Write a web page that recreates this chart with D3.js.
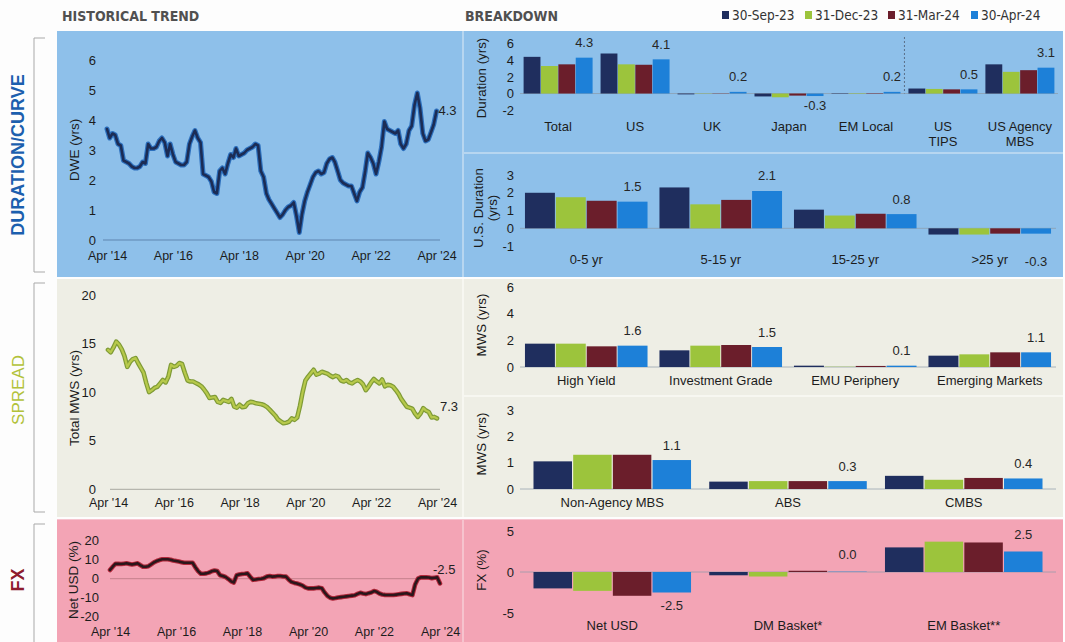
<!DOCTYPE html>
<html>
<head>
<meta charset="utf-8">
<script src="https://cdn.jsdelivr.net/npm/d3@7"></script>
<style>
  html, body { margin: 0; padding: 0; background: #fdfdfd; }
  svg { display: block; font-family: "Liberation Sans", Arial, Helvetica, sans-serif; }
  .narrow { font-family: "Liberation Sans Narrow", "DejaVu Sans Condensed", "Liberation Sans", Arial, sans-serif; }
</style>
</head>
<body>
<svg id="chart" width="1065" height="642"></svg>
<script>
// ---------- data ----------
const seriesNames = ["30-Sep-23", "31-Dec-23", "31-Mar-24", "30-Apr-24"];
const seriesColors = ["#1f2e5e", "#9cc43c", "#6b1e2b", "#1d80d8"];

// monthly history, Apr 2014 .. Apr 2024
const trendStart = new Date(2014, 3, 1);
const trendTickOffsets = [0, 24, 48, 72, 96, 120];
const trendTickLabels = ["Apr '14", "Apr '16", "Apr '18", "Apr '20", "Apr '22", "Apr '24"];

const dweValues = [
  3.7, 3.4, 3.55, 3.5, 3.2, 3.15, 2.65, 2.6, 2.55, 2.45,
  2.4, 2.4, 2.45, 2.6, 2.55, 3.2, 3.05, 3.05, 3.1, 3.3,
  3.4, 3.25, 2.8, 3.2, 2.85, 2.6, 2.55, 2.5, 2.5, 2.6,
  3.2, 3.45, 3.65, 3.4, 3.25, 2.2, 2.15, 2.1, 1.95, 1.6,
  1.55, 2.3, 2.4, 2.2, 2.55, 2.85, 2.75, 3.05, 2.8, 2.85,
  2.9, 3.0, 3.05, 3.1, 3.2, 3.15, 2.3, 2.1, 1.55, 1.35,
  1.2, 1.05, 0.9, 0.75, 0.85, 1.0, 1.1, 1.15, 1.25, 0.8,
  0.25, 0.85, 1.3, 1.6, 1.85, 2.1, 2.25, 2.3, 2.2, 2.25,
  2.55, 2.7, 2.75, 2.6, 2.3, 2.0, 1.9, 1.85, 1.8, 1.8,
  1.55, 1.3, 1.6, 1.75, 2.3, 2.9, 2.75, 2.55, 2.2, 2.6,
  3.1, 3.95, 3.7, 3.65, 3.6, 3.55, 3.65, 3.2, 3.05, 3.2,
  3.65, 3.8, 4.5, 4.9, 4.4, 3.55, 3.3, 3.35, 3.6, 3.85,
  4.3
];

const mwsValues = [
  14.35, 14.1, 14.6, 15.2, 14.9, 14.4, 13.7, 12.6, 13.1, 13.4,
  13.5, 13.0, 12.5, 12.0, 10.9, 10.0, 10.2, 10.45, 10.55, 10.9,
  11.25, 11.0, 11.6, 12.8, 12.6, 12.7, 13.0, 12.9, 12.0, 11.2,
  11.1, 11.1, 10.95, 10.8, 10.6, 10.3, 9.9, 9.4, 9.45, 9.5,
  9.0, 8.9, 9.2, 9.1, 9.0, 9.3, 8.5, 8.4, 8.7, 8.45,
  8.5, 8.85, 9.0, 8.95, 8.85, 8.8, 8.75, 8.65, 8.45, 8.2,
  7.9, 7.6, 7.2, 7.0, 6.8, 6.85, 6.95, 7.3, 7.15, 7.4,
  8.6, 10.0, 11.2, 11.6, 11.95, 12.3, 11.8, 11.9, 12.1, 12.0,
  11.9, 11.7, 11.55, 11.7, 11.6, 11.2, 11.1, 11.25, 11.0, 10.9,
  11.1, 11.25, 11.1, 10.8, 10.2, 10.55, 11.0, 11.35, 11.1, 10.9,
  11.3, 10.6, 10.75, 10.7, 10.55, 10.2, 9.8, 9.3, 8.9, 8.5,
  8.4, 8.3, 7.8, 7.45, 7.8, 8.35, 8.1, 7.95, 7.4, 7.45,
  7.3
];

const netUsdValues = [
  4.6, 6.3, 7.9, 7.8, 7.7, 7.9, 8.1, 7.8, 7.5, 7.8,
  8.1, 7.2, 6.3, 6.3, 6.6, 7.6, 8.6, 9.3, 9.8, 10.2,
  10.2, 10.2, 10.0, 9.6, 9.3, 9.0, 8.7, 8.4, 8.4, 8.4,
  8.4, 6.0, 4.0, 2.6, 2.6, 2.8, 3.2, 3.9, 4.3, 4.0,
  1.8, 1.4, 0.9, -0.2, -1.4, -2.0, 1.8, 2.2, 2.5, 2.6,
  2.8, 1.0, -0.6, -0.4, -0.2, 0.0, 0.3, 1.1, 1.4, 1.1,
  1.2, 1.4, 1.4, 1.2, 1.1, -0.5, -1.7, -2.2, -2.5, -3.0,
  -3.6, -4.6, -5.1, -5.1, -5.1, -4.9, -4.7, -5.0, -7.2, -9.0,
  -10.0, -10.4, -10.2, -9.9, -9.7, -9.5, -9.3, -9.1, -8.9, -8.7,
  -8.0, -7.4, -7.8, -8.1, -7.6, -7.3, -6.5, -6.9, -7.8, -8.3,
  -8.5, -8.6, -8.6, -8.6, -8.4, -8.2, -8.0, -7.8, -7.7, -8.2,
  -8.6, -3.0, 0.0, 0.7, 0.7, 0.7, 0.6, 0.3, 0.5, 0.7,
  -2.5
];

// breakdowns: one row per category, one value per as-of date
const durationCategories = ["Total", "US", "UK", "Japan", "EM Local", "US\nTIPS", "US Agency\nMBS"];
const durationValues = [
  [4.4, 3.3, 3.5, 4.3],
  [4.8, 3.5, 3.45, 4.1],
  [-0.1, 0.03, 0.03, 0.2],
  [-0.35, -0.45, -0.25, -0.3],
  [0.05, 0.05, 0.05, 0.2],
  [0.6, 0.55, 0.5, 0.5],
  [3.5, 2.6, 2.8, 3.1]
];

const usDurationCategories = ["0-5 yr", "5-15 yr", "15-25 yr", ">25 yr"];
const usDurationValues = [
  [2.0, 1.75, 1.55, 1.5],
  [2.3, 1.35, 1.6, 2.1],
  [1.05, 0.72, 0.82, 0.8],
  [-0.35, -0.35, -0.3, -0.3]
];

const creditCategories = ["High Yield", "Investment Grade", "EMU Periphery", "Emerging Markets"];
const creditValues = [
  [1.75, 1.75, 1.55, 1.6],
  [1.25, 1.6, 1.65, 1.5],
  [0.1, 0.02, 0.08, 0.1],
  [0.85, 0.95, 1.1, 1.1]
];

const securitizedCategories = ["Non-Agency MBS", "ABS", "CMBS"];
const securitizedValues = [
  [1.05, 1.3, 1.3, 1.1],
  [0.28, 0.3, 0.3, 0.3],
  [0.5, 0.35, 0.42, 0.4]
];

const fxCategories = ["Net USD", "DM Basket*", "EM Basket**"];
const fxValues = [
  [-2.0, -2.3, -2.9, -2.5],
  [-0.4, -0.55, 0.15, 0.04],
  [3.0, 3.7, 3.6, 2.5]
];

// ---------- drawing ----------
const svg = d3.select("#chart");
const months = dweValues.map((_, i) => d3.timeMonth.offset(trendStart, i));

// section backgrounds
const bandBacks = [
  { x: 57, y: 31, w: 1006, h: 246, fill: "#b7d6f0" },
  { x: 57, y: 279, w: 1006, h: 238, fill: "#f7f7f1" },
  { x: 57, y: 519, w: 1006, h: 123, fill: "#f6c3ce" }
];
const panelBacks = [
  { x: 57, y: 31, w: 405, h: 246, fill: "#8ec0ea" },
  { x: 464, y: 31, w: 599, h: 121, fill: "#8ec0ea" },
  { x: 464, y: 154, w: 599, h: 123, fill: "#8ec0ea" },
  { x: 57, y: 279, w: 405, h: 238, fill: "#eeeee5" },
  { x: 464, y: 279, w: 599, h: 116, fill: "#eeeee5" },
  { x: 464, y: 397, w: 599, h: 120, fill: "#eeeee5" },
  { x: 57, y: 520, w: 405, h: 122, fill: "#f3a4b5" },
  { x: 464, y: 520, w: 599, h: 122, fill: "#f3a4b5" }
];
svg.append("g").selectAll("rect").data(bandBacks.concat(panelBacks)).join("rect")
  .attr("x", d => d.x).attr("y", d => d.y).attr("width", d => d.w).attr("height", d => d.h)
  .attr("fill", d => d.fill);

// headers
svg.append("text").attr("class", "narrow").attr("x", 62).attr("y", 21)
  .attr("font-size", 14).attr("font-weight", "bold").attr("fill", "#505050").text("HISTORICAL TREND");
svg.append("text").attr("class", "narrow").attr("x", 465).attr("y", 21)
  .attr("font-size", 14).attr("font-weight", "bold").attr("fill", "#505050").text("BREAKDOWN");

// legend
const legend = svg.append("g").attr("class", "narrow");
const legendItem = legend.selectAll("g").data(seriesNames).join("g")
  .attr("transform", (d, i) => `translate(${722 + i * 83},0)`);
legendItem.append("rect").attr("x", 0).attr("y", 11).attr("width", 7).attr("height", 8)
  .attr("fill", (d, i) => seriesColors[i]);
legendItem.append("text").attr("x", 10).attr("y", 20).attr("font-size", 13.5).attr("fill", "#333")
  .text(d => d);

// section labels with brackets
const sections = [
  { label: "DURATION/CURVE", color: "#1c5fae", weight: "bold", size: 18, top: 38, bottom: 272, cy: 155 },
  { label: "SPREAD", color: "#b2c23a", weight: "normal", size: 17, top: 283, bottom: 512, cy: 390 },
  { label: "FX", color: "#8e1c2e", weight: "bold", size: 18, top: 524, bottom: 660, cy: 580 }
];
sections.forEach(s => {
  svg.append("path")
    .attr("d", `M45,${s.top}H34V${s.bottom}H45`)
    .attr("fill", "none").attr("stroke", "#a9a9a9").attr("stroke-width", 1);
  svg.append("text")
    .attr("transform", `translate(24,${s.cy}) rotate(-90)`)
    .attr("text-anchor", "middle")
    .attr("font-size", s.size).attr("font-weight", s.weight).attr("fill", s.color)
    .text(s.label);
});

function styleAxis(g) {
  g.attr("font-size", null).attr("font-family", null);
  g.select(".domain").remove();
  g.selectAll("text").attr("fill", "#1c1c1c");
}

// ---- historical trend lines ----
const trendCharts = [
  {
    values: dweValues, xRange: [107, 436.5], yDomain: [0, 6], yRange: [240, 60],
    yTicks: [0, 1, 2, 3, 4, 5, 6], tickRight: 96, labelTop: 251,
    title: "DWE (yrs)", titleX: 79, titleY: 150,
    zeroSpan: [103, 440], zeroColor: "#5f85b0",
    halo: "#2c6fbd", haloW: 5, stroke: "#1b2c55", strokeW: 2.6,
    endDx: 2, endDy: 4
  },
  {
    values: mwsValues, xRange: [108, 437], yDomain: [0, 20], yRange: [489.3, 295],
    yTicks: [0, 5, 10, 15, 20], tickRight: 96, labelTop: 498,
    title: "Total MWS (yrs)", titleX: 79, titleY: 398,
    zeroSpan: [110, 440], zeroColor: "#a8a8a0",
    halo: "#7f9b36", haloW: 4.6, stroke: "#b7c94b", strokeW: 2.2,
    endDx: 3, endDy: -7
  },
  {
    values: netUsdValues, xRange: [110, 440], yDomain: [-20, 20], yRange: [616.7, 540.7],
    yTicks: [-20, -10, 0, 10, 20], tickRight: 99, labelTop: 627,
    title: "Net USD (%)", titleX: 78, titleY: 580,
    zeroSpan: [110, 440], zeroColor: "#c47f8c",
    halo: "#b0283b", haloW: 4.6, stroke: "#2b161b", strokeW: 2.6,
    endDx: -7, endDy: -9
  }
];

trendCharts.forEach(cfg => {
  const x = d3.scaleTime().domain([months[0], months[months.length - 1]]).range(cfg.xRange);
  const y = d3.scaleLinear().domain(cfg.yDomain).range(cfg.yRange);
  const g = svg.append("g");

  g.append("line")
    .attr("x1", cfg.zeroSpan[0]).attr("x2", cfg.zeroSpan[1])
    .attr("y1", y(0)).attr("y2", y(0))
    .attr("stroke", cfg.zeroColor).attr("stroke-width", 1);

  g.append("g").attr("transform", `translate(${cfg.tickRight},0)`)
    .call(d3.axisLeft(y).tickValues(cfg.yTicks).tickSize(0).tickPadding(0).tickFormat(d => String(d)))
    .call(styleAxis)
    .selectAll("text").attr("font-size", 13);

  g.append("g").attr("transform", `translate(0,${cfg.labelTop})`)
    .call(d3.axisBottom(x)
      .tickValues(trendTickOffsets.map(i => months[i]))
      .tickSize(0).tickPadding(0)
      .tickFormat((d, i) => trendTickLabels[i]))
    .call(styleAxis)
    .selectAll("text").attr("font-size", 12.5);

  g.append("text")
    .attr("transform", `translate(${cfg.titleX},${cfg.titleY}) rotate(-90)`)
    .attr("text-anchor", "middle").attr("font-size", 13.5).attr("fill", "#1c1c1c")
    .text(cfg.title);

  const line = d3.line().x((d, i) => x(months[i])).y(d => y(d));
  g.append("path").datum(cfg.values).attr("d", line)
    .attr("fill", "none").attr("stroke", cfg.halo).attr("stroke-width", cfg.haloW)
    .attr("stroke-linejoin", "round").attr("stroke-linecap", "round");
  g.append("path").datum(cfg.values).attr("d", line)
    .attr("fill", "none").attr("stroke", cfg.stroke).attr("stroke-width", cfg.strokeW)
    .attr("stroke-linejoin", "round").attr("stroke-linecap", "round");

  const last = cfg.values.length - 1;
  g.append("text")
    .attr("x", x(months[last]) + cfg.endDx)
    .attr("y", y(cfg.values[last]) + cfg.endDy)
    .attr("font-size", 13).attr("fill", "#222")
    .text(cfg.values[last].toFixed(1));
});

// ---- breakdown bar charts ----
const breakdowns = [
  {
    categories: durationCategories, values: durationValues,
    xRange: [520, 1058], padInner: 0.09, padOuter: 0.04,
    yDomain: [-2, 6], yRange: [110.2, 43.5], yTicks: [-2, 0, 2, 4, 6],
    catTop: 122, titleLines: ["Duration (yrs)"], titleX: [486], titleY: 78,
    posGap: 10.5, negGap: 13.5, dividerAfter: 4, dividerTop: 37
  },
  {
    categories: usDurationCategories, values: usDurationValues,
    xRange: [520, 1056], padInner: 0.075, padOuter: 0.03,
    yDomain: [-1, 3], yRange: [246.1, 175], yTicks: [-1, 0, 1, 2, 3],
    catTop: 255, titleLines: ["U.S. Duration", "(yrs)"], titleX: [483, 497], titleY: 208,
    posGap: 10.5, negGap: 32
  },
  {
    categories: creditCategories, values: creditValues,
    xRange: [520, 1056], padInner: 0.075, padOuter: 0.03,
    yDomain: [0, 6], yRange: [367, 287], yTicks: [0, 2, 4, 6],
    catTop: 376, titleLines: ["MWS (yrs)"], titleX: [486], titleY: 325,
    posGap: 10.5, negGap: 14
  },
  {
    categories: securitizedCategories, values: securitizedValues,
    xRange: [520, 1056], padInner: 0.09, padOuter: 0.07,
    yDomain: [0, 3], yRange: [489, 410], yTicks: [0, 1, 2, 3],
    catTop: 498, titleLines: ["MWS (yrs)"], titleX: [486], titleY: 444,
    posGap: 10.5, negGap: 14
  },
  {
    categories: fxCategories, values: fxValues,
    xRange: [520, 1056], padInner: 0.09, padOuter: 0.07,
    yDomain: [-5, 5], yRange: [613, 531], yTicks: [-5, 0, 5],
    catTop: 621, titleLines: ["FX (%)"], titleX: [486], titleY: 570,
    posGap: 13, negGap: 17
  }
];

breakdowns.forEach(cfg => {
  const x0 = d3.scaleBand().domain(cfg.categories).range(cfg.xRange)
    .paddingInner(cfg.padInner).paddingOuter(cfg.padOuter);
  const x1 = d3.scaleBand().domain(seriesNames).range([0, x0.bandwidth()]).padding(0.03);
  const y = d3.scaleLinear().domain(cfg.yDomain).range(cfg.yRange);
  const g = svg.append("g");

  // baseline
  g.append("line")
    .attr("x1", cfg.xRange[0]).attr("x2", cfg.xRange[1])
    .attr("y1", y(0)).attr("y2", y(0))
    .attr("stroke", "#8c9aa8").attr("stroke-opacity", 0.7).attr("stroke-width", 1);

  // y axis
  g.append("g").attr("transform", "translate(514,0)")
    .call(d3.axisLeft(y).tickValues(cfg.yTicks).tickSize(0).tickPadding(0).tickFormat(d => String(d)))
    .call(styleAxis)
    .selectAll("text").attr("font-size", 13);

  // axis title
  cfg.titleLines.forEach((t, i) => {
    g.append("text")
      .attr("transform", `translate(${cfg.titleX[i]},${cfg.titleY}) rotate(-90)`)
      .attr("text-anchor", "middle").attr("font-size", 13.3).attr("fill", "#1c1c1c")
      .text(t);
  });

  // bars
  const groups = g.selectAll("g.cat").data(cfg.categories).join("g")
    .attr("class", "cat")
    .attr("transform", c => `translate(${x0(c)},0)`);
  groups.selectAll("rect")
    .data((c, i) => cfg.values[i].map((v, j) => ({ v, s: seriesNames[j], j })))
    .join("rect")
    .attr("x", d => x1(d.s))
    .attr("width", x1.bandwidth())
    .attr("y", d => y(Math.max(0, d.v)))
    .attr("height", d => Math.abs(y(d.v) - y(0)))
    .attr("fill", d => seriesColors[d.j]);

  // value label for the latest date
  groups.append("text")
    .attr("text-anchor", "middle")
    .attr("x", x1(seriesNames[3]) + x1.bandwidth() / 2)
    .attr("y", (c, i) => {
      const v = cfg.values[i][3];
      return v >= 0 ? y(v) - cfg.posGap : y(v) + cfg.negGap;
    })
    .attr("font-size", 13).attr("fill", "#262626")
    .text((c, i) => cfg.values[i][3].toFixed(1));

  // category labels
  const xa = g.append("g").attr("transform", `translate(0,${cfg.catTop})`)
    .call(d3.axisBottom(x0).tickSize(0).tickPadding(0))
    .call(styleAxis);
  xa.selectAll("text").attr("font-size", 13).each(function (d) {
    const parts = d.split("\n");
    const t = d3.select(this).text(null);
    parts.forEach((p, k) => {
      t.append("tspan").attr("x", 0).attr("dy", k === 0 ? "0.71em" : "1.15em").text(p);
    });
  }).attr("dy", null);

  // divider between country and sector groups
  if (cfg.dividerAfter !== undefined) {
    const a = cfg.categories[cfg.dividerAfter], b = cfg.categories[cfg.dividerAfter + 1];
    const xd = (x0(a) + x0.bandwidth() + x0(b)) / 2;
    g.append("line")
      .attr("x1", xd).attr("x2", xd).attr("y1", cfg.dividerTop).attr("y2", y(0))
      .attr("stroke", "#5b6f88").attr("stroke-width", 1).attr("stroke-dasharray", "2,2");
  }
});
</script>
</body>
</html>
